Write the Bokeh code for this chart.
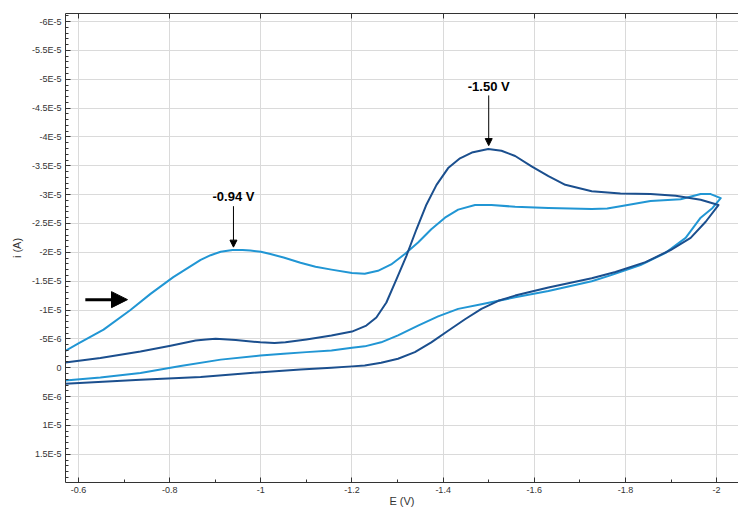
from bokeh.plotting import figure
from bokeh.models import (Range1d, LinearAxis, FixedTicker, CustomJSTickFormatter,
                          Arrow, NormalHead, Label)
from bokeh.embed import file_html
from bokeh.resources import INLINE

# ---- data (E in V, i in A) ----
light_E = [-0.571, -0.600, -0.655, -0.714, -0.758, -0.808, -0.868, -0.890, -0.912, -0.938,
           -0.960, -0.977, -1.000, -1.021, -1.050, -1.087, -1.120, -1.155, -1.200, -1.228,
           -1.257, -1.286, -1.316, -1.345, -1.374, -1.404, -1.433, -1.470, -1.506, -1.558,
           -1.631, -1.726, -1.760, -1.789, -1.855, -1.921, -1.965, -1.987, -2.009,
           -1.991, -1.965, -1.932, -1.888, -1.833, -1.767, -1.726, -1.631, -1.558, -1.484,
           -1.433, -1.389, -1.345, -1.301, -1.264, -1.228, -1.200, -1.155, -1.100, -1.050,
           -0.999, -0.912, -0.824, -0.736, -0.648, -0.571]
light_i = [-0.29e-5, -0.42e-5, -0.66e-5, -1.00e-5, -1.28e-5, -1.57e-5, -1.87e-5, -1.95e-5, -2.01e-5, -2.04e-5,
           -2.04e-5, -2.03e-5, -2.01e-5, -1.97e-5, -1.91e-5, -1.82e-5, -1.75e-5, -1.70e-5, -1.64e-5, -1.63e-5,
           -1.68e-5, -1.79e-5, -1.97e-5, -2.17e-5, -2.40e-5, -2.60e-5, -2.74e-5, -2.82e-5, -2.82e-5, -2.79e-5,
           -2.77e-5, -2.75e-5, -2.76e-5, -2.80e-5, -2.89e-5, -2.92e-5, -3.01e-5, -3.01e-5, -2.94e-5,
           -2.77e-5, -2.60e-5, -2.25e-5, -1.99e-5, -1.78e-5, -1.60e-5, -1.50e-5, -1.33e-5, -1.22e-5, -1.10e-5,
           -1.02e-5, -0.89e-5, -0.73e-5, -0.56e-5, -0.44e-5, -0.37e-5, -0.345e-5, -0.30e-5, -0.27e-5, -0.24e-5,
           -0.21e-5, -0.14e-5, -0.03e-5, 0.09e-5, 0.17e-5, 0.22e-5]

dark_E = [-0.571, -0.648, -0.736, -0.802, -0.857, -0.880, -0.901, -0.945, -0.999, -1.030,
          -1.054, -1.100, -1.155, -1.200, -1.2315, -1.2535, -1.2755, -1.2975, -1.3195, -1.3415,
          -1.3635, -1.3855, -1.411, -1.437, -1.463, -1.499, -1.528, -1.558, -1.594, -1.631,
          -1.668, -1.726, -1.789, -1.855, -1.910, -1.965, -2.004,
          -1.976, -1.943, -1.899, -1.844, -1.778, -1.726, -1.631, -1.558, -1.521, -1.484,
          -1.448, -1.411, -1.374, -1.338, -1.301, -1.264, -1.228, -1.200, -1.155, -1.087,
          -0.977, -0.868, -0.736, -0.571]
dark_i = [-0.09e-5, -0.17e-5, -0.28e-5, -0.38e-5, -0.47e-5, -0.49e-5, -0.50e-5, -0.48e-5, -0.44e-5, -0.43e-5,
          -0.44e-5, -0.49e-5, -0.557e-5, -0.626e-5, -0.73e-5, -0.87e-5, -1.13e-5, -1.53e-5, -1.94e-5, -2.40e-5,
          -2.83e-5, -3.17e-5, -3.46e-5, -3.63e-5, -3.73e-5, -3.79e-5, -3.76e-5, -3.67e-5, -3.49e-5, -3.32e-5,
          -3.17e-5, -3.06e-5, -3.02e-5, -3.01e-5, -2.98e-5, -2.91e-5, -2.82e-5,
          -2.53e-5, -2.25e-5, -2.04e-5, -1.83e-5, -1.66e-5, -1.55e-5, -1.39e-5, -1.25e-5, -1.16e-5, -1.02e-5,
          -0.84e-5, -0.64e-5, -0.44e-5, -0.27e-5, -0.155e-5, -0.086e-5, -0.04e-5, -0.023e-5, 0.0, 0.03e-5,
          0.09e-5, 0.16e-5, 0.21e-5, 0.28e-5]

peak_E = [-0.94, -1.50]
peak_i = [-2.04e-5, -3.79e-5]
peak_labels = ["-0.94 V", "-1.50 V"]

x_ticks = [-0.6, -0.8, -1.0, -1.2, -1.4, -1.6, -1.8, -2.0]
x_minor = [-0.6, -0.7, -0.8, -0.9, -1.0, -1.1, -1.2, -1.3, -1.4, -1.5, -1.6, -1.7, -1.8, -1.9, -2.0]
y_ticks = [-6e-5, -5.5e-5, -5e-5, -4.5e-5, -4e-5, -3.5e-5, -3e-5, -2.5e-5, -2e-5, -1.5e-5,
           -1e-5, -0.5e-5, 0.0, 0.5e-5, 1e-5, 1.5e-5]
y_minor = [k * 1e-6 for k in range(-62, 21)]

LIGHT = "#2196d4"
DARK = "#1b4f8e"
FONT = "Liberation Sans"

p = figure(width=738, height=509, output_backend="svg", toolbar_location=None,
           x_range=Range1d(-0.5715, -2.048), y_range=Range1d(1.99e-5, -6.14e-5),
           min_border_left=65, min_border_right=0, min_border_top=13, min_border_bottom=26,
           background_fill_color="white", border_fill_color="white")
p.outline_line_color = None

x_tk = FixedTicker(ticks=x_ticks, minor_ticks=x_minor)
y_tk = FixedTicker(ticks=y_ticks, minor_ticks=y_minor)

xfmt = CustomJSTickFormatter(code="return String(Math.round(tick*10)/10);")
yfmt = CustomJSTickFormatter(code="""
const v = Math.round(tick*1e6);
if (v === 0) return "0";
if (Math.abs(v) === 5) return (v < 0 ? "-" : "") + "5E-6";
return String(v/10) + "E-5";
""")

xa = p.xaxis[0]
xa.ticker = x_tk
xa.formatter = xfmt
ya = p.yaxis[0]
ya.ticker = y_tk
ya.formatter = yfmt

for ax in (xa, ya):
    ax.axis_line_color = "#333333"
    ax.axis_line_width = 1
    ax.major_tick_in = 5
    ax.major_tick_out = 0
    ax.minor_tick_in = 3
    ax.minor_tick_out = 0
    ax.major_tick_line_color = "#333333"
    ax.minor_tick_line_color = "#333333"
    ax.major_label_text_font = FONT
    ax.major_label_text_font_size = "9px"
    ax.major_label_text_color = "#333333"
    ax.major_label_standoff = 5
    ax.axis_label_text_font = FONT
    ax.axis_label_text_font_size = "11px"
    ax.axis_label_text_font_style = "normal"
    ax.axis_label_text_color = "#333333"

ya.major_label_standoff = 4
ya.axis_label = "i (A)"
ya.axis_label_standoff = 6
xa.major_label_standoff = 4
xa.axis_label = "E (V)"
xa.axis_label_standoff = -1

top = LinearAxis(ticker=x_tk, formatter=xfmt, axis_line_color="#333333",
                 major_tick_in=5, major_tick_out=0, minor_tick_in=0, minor_tick_out=0,
                 major_tick_line_color="#333333", major_label_text_alpha=0,
                 major_label_text_font_size="1px", major_label_standoff=0)
p.add_layout(top, "above")

p.xgrid.ticker = x_tk
p.ygrid.ticker = y_tk
for g in (p.xgrid[0], p.ygrid[0]):
    g.grid_line_color = "#dadada"
    g.grid_line_width = 1

p.line(light_E, light_i, line_color=LIGHT, line_width=2, line_join="round")
p.line(dark_E, dark_i, line_color=DARK, line_width=2, line_join="round")

# peak annotations
label_i = [-2.96e-5, -4.88e-5]
arrow_start_i = [-2.80e-5, -4.72e-5]
arrow_end_i = [-2.09e-5, -3.85e-5]
for e, lab, li, s, en in zip(peak_E, peak_labels, label_i, arrow_start_i, arrow_end_i):
    p.add_layout(Arrow(x_start=e, y_start=s, x_end=e, y_end=en, line_color="black", line_width=1,
                       end=NormalHead(size=7, fill_color="black", line_color="black")))
    p.add_layout(Label(x=e, y=li, text=lab, text_align="center", text_baseline="middle",
                       text_font=FONT, text_font_size="13px", text_font_style="bold",
                       text_color="black"))

# scan direction arrow
p.add_layout(Arrow(x_start=-0.615, y_start=-1.18e-5, x_end=-0.7075, y_end=-1.18e-5,
                   line_color="black", line_width=3,
                   end=NormalHead(size=16, fill_color="black", line_color="black")))

open("out.html", "w").write(file_html(p, INLINE))
